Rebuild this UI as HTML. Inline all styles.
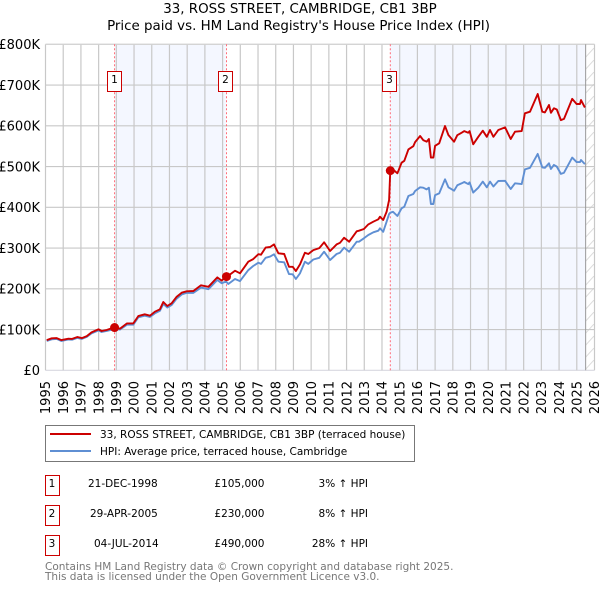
<!DOCTYPE html>
<html lang="en">
<head>
<meta charset="utf-8">
<title>33, Ross Street, Cambridge price chart</title>
<style>
html,body{margin:0;padding:0;background:#fff;}
#chart{display:block;position:absolute;left:0;top:0;width:600px;height:590px;overflow:hidden;font-family:"DejaVu Sans","Liberation Sans",sans-serif;}
</style>
</head>
<body>
<svg id="chart" xmlns="http://www.w3.org/2000/svg" width="600" height="590" viewBox="0 0 600 590">
<defs>
<pattern id="hatch" patternUnits="userSpaceOnUse" width="9" height="12">
<path d="M-1 11 L9 0" stroke="#dcdcdc" stroke-width="1" fill="none"/>
</pattern>
</defs>
<text x="300" y="13" text-anchor="middle" font-size="13.4" fill="#000">33, ROSS STREET, CAMBRIDGE, CB1 3BP</text>
<text x="298.5" y="30" text-anchor="middle" font-size="13.4" fill="#000">Price paid vs. HM Land Registry's House Price Index (HPI)</text>
<g id="plot"></g>

<g>
<rect x="45.5" y="425.5" width="369" height="36" fill="#fff" stroke="#777" stroke-width="1"/>
<line x1="50" x2="91" y1="434" y2="434" stroke="#cc0000" stroke-width="2"/>
<text x="100" y="438" font-size="10.5" fill="#000">33, ROSS STREET, CAMBRIDGE, CB1 3BP (terraced house)</text>
<line x1="50" x2="91" y1="451" y2="451" stroke="#5f8fd3" stroke-width="2"/>
<text x="100" y="455" font-size="10.5" fill="#000">HPI: Average price, terraced house, Cambridge</text>
</g>

<g font-size="10.5" fill="#000">
<rect x="45.5" y="475.5" width="14" height="20" fill="#fff" stroke="#cc0000"/>
<text x="52" y="487" text-anchor="middle">1</text>
<text x="88" y="487">21-DEC-1998</text>
<text x="264.5" y="487" text-anchor="end">£105,000</text>
<text x="368" y="487" text-anchor="end">3% ↑ HPI</text>
<rect x="45.5" y="505.5" width="14" height="20" fill="#fff" stroke="#cc0000"/>
<text x="52" y="517" text-anchor="middle">2</text>
<text x="90" y="517">29-APR-2005</text>
<text x="264.5" y="517" text-anchor="end">£230,000</text>
<text x="368" y="517" text-anchor="end">8% ↑ HPI</text>
<rect x="45.5" y="535.5" width="14" height="20" fill="#fff" stroke="#cc0000"/>
<text x="52" y="547" text-anchor="middle">3</text>
<text x="94" y="547">04-JUL-2014</text>
<text x="264.5" y="547" text-anchor="end">£490,000</text>
<text x="368" y="547" text-anchor="end">28% ↑ HPI</text>
</g>

<text x="45" y="570" font-size="10.5" fill="#777">Contains HM Land Registry data © Crown copyright and database right 2025.</text>
<text x="45" y="580" font-size="10.5" fill="#777">This data is licensed under the Open Government Licence v3.0.</text>
</svg>

<script>
var yearTicks = [1995,1996,1997,1998,1999,2000,2001,2002,2003,2004,2005,2006,2007,2008,2009,2010,2011,2012,2013,2014,2015,2016,2017,2018,2019,2020,2021,2022,2023,2024,2025,2026];
var valueTicks = [0,100,200,300,400,500,600,700,800];
var valueTickLabels = ['£0','£100K','£200K','£300K','£400K','£500K','£600K','£700K','£800K'];
var seriesYears = [1995.07,1995.35,1995.63,1995.9,1996.3,1996.5,1996.8,1997.05,1997.33,1997.6,1998,1998.17,1998.45,1998.9,1999.2,1999.6,1999.96,2000.24,2000.6,2000.9,2001.18,2001.46,2001.65,2001.88,2002.12,2002.41,2002.69,2002.97,2003.35,2003.78,2004.2,2004.7,2004.95,2005.2,2005.32,2005.7,2005.98,2006.45,2006.73,2007.02,2007.17,2007.43,2007.68,2007.9,2008.15,2008.48,2008.75,2008.96,2009.14,2009.37,2009.65,2009.84,2010.12,2010.46,2010.73,2011.07,2011.44,2011.63,2011.86,2012.15,2012.57,2012.7,2012.98,2013.23,2013.51,2013.79,2013.89,2014.07,2014.26,2014.4,2014.47,2014.62,2014.87,2015.11,2015.26,2015.49,2015.77,2015.87,2016.15,2016.33,2016.52,2016.65,2016.76,2016.9,2017,2017.23,2017.56,2017.75,2018.07,2018.25,2018.5,2018.65,2018.87,2018.95,2019.15,2019.44,2019.69,2019.92,2020.1,2020.29,2020.57,2020.95,2021.27,2021.51,2021.89,2022.07,2022.36,2022.79,2023.05,2023.2,2023.43,2023.54,2023.71,2023.87,2024.1,2024.28,2024.74,2024.99,2025.18,2025.24,2025.46];
var pricePaid = [74,78.5,79,74,77.5,77,81.7,79,84,93,100.5,96.5,99,105.5,102,115,115,133,137.4,134,143.8,149.7,167.6,157.8,164.4,180.6,190.4,193.9,194.6,208.6,205,228,220,230,232,244.4,238,266.5,273,285,283.7,301,302.6,309,287,285.4,254,254,243.7,260,288.6,285.4,295,300,314,292.8,309,313,325.4,315.6,341,342.6,346.7,358,364.7,370.6,377,368.8,389,418,490,493,483.4,509.5,514,542,550,560,575,565,561,567.6,522,522,551,557,599.5,577.4,561,577,583,587,583,587,554.6,573,588,573,589.7,573,589.7,596,567.6,585.5,587,630.6,634.6,678,634.6,633,651,632,643,640,614,617,666,653.5,653.5,663,645];
var hpiIndex = [72,76,77,72,75.5,75,79.5,77,82,90.5,98,94,96.5,101,100,112,112,130,134,131,140,146,163,154,160,176,186,190,190,203,199,221.6,213.5,218,211.7,224,219,246,256,264,261,276,279,284.6,266.5,265,236,235.6,224,238,266.5,261,272,276,291,270.7,285.4,288.6,301,291,315.6,315.6,324,332,338.6,342.6,348.5,340,364.7,383.6,386.7,389,378.6,397.5,401.5,427.7,432.6,440,449,448,444,448,408,408,430,434,468.7,449,440.7,454,459,462,457,461,436,448,463,449,463,451,464.5,465,445,459,457,493,497,531,498,497,508,494,504,500,482,485,522,511,511,516,506];
var saleYears = [1998.9,2005.22,2014.47];
var salePrices = [105,230,490];
var shadedSpans = [[1998.93,2005.18],[2014.47,2025.5]];

var plotLeft = 45.5, plotRight = 594.5, plotTop = 44.3, plotBottom = 370.3;
var svgNS = 'http://www.w3.org/2000/svg';
var plot = document.getElementById('plot');
function xScale(year){ return plotLeft + (year - 1995) * (plotRight - plotLeft) / 31; }
function yScale(value){ return plotBottom - value * (plotBottom - plotTop) / 800; }
function make(tag, attrs, parent){
  var el = document.createElementNS(svgNS, tag);
  for (var k in attrs) el.setAttribute(k, attrs[k]);
  (parent || plot).appendChild(el);
  return el;
}

shadedSpans.forEach(function(span){
  var r = make('rect', {x: xScale(span[0]), y: plotTop, width: xScale(span[1]) - xScale(span[0]), height: plotBottom - plotTop, fill: '#f4f7ff'});
  
  
});

var hatchRect = make('rect', {x: xScale(2025.5), y: plotTop, width: plotRight - xScale(2025.5), height: plotBottom - plotTop, fill: 'url(#hatch)'});



valueTicks.forEach(function(v, i){
  var y = yScale(v);
  var line = make('line', {x1: plotLeft, x2: plotRight, y1: y, y2: y, stroke: i === 0 ? '#d8d8e0' : '#c8c8c8', 'stroke-width': 1.2});
  
  
  var label = make('text', {x: 40, y: y + 4.7, 'text-anchor': 'end', 'font-size': 13, fill: '#000'});
  
  
  label.textContent = valueTickLabels[i];
});

yearTicks.forEach(function(yr){
  var x = xScale(yr);
  var line = make('line', {x1: x, x2: x, y1: plotTop, y2: plotBottom, stroke: '#c8c8c8', 'stroke-width': 1.2});
  
  
  var label = make('text', {x: 0, y: 0, 'text-anchor': 'end', 'font-size': 13, fill: '#000', transform: 'translate(' + (x + 4.7) + ',381) rotate(-90)'});
  
  
  label.textContent = String(yr);
});

var topBorder = make('line', {x1: plotLeft, x2: plotRight, y1: plotTop, y2: plotTop, stroke: '#d4d4d4', 'stroke-width': 1});



var endLine = make('line', {x1: xScale(2025.5), x2: xScale(2025.5), y1: plotTop, y2: plotBottom, stroke: '#999', 'stroke-width': 1});



saleYears.forEach(function(yr){
  var x = xScale(yr);
  var line = make('line', {x1: x, x2: x, y1: plotTop, y2: plotBottom, stroke: '#ff6b78', 'stroke-width': 1, 'stroke-dasharray': '2 2'});
  
  
});

function pointsFor(values){
  return values.map(function(v, i){ return xScale(seriesYears[i]).toFixed(1) + ',' + yScale(v).toFixed(1); }).join(' ');
}
var hpiLine = make('polyline', {points: pointsFor(hpiIndex), fill: 'none', stroke: '#5f8fd3', 'stroke-width': 1.9, 'stroke-linejoin': 'round'});


var priceLine = make('polyline', {points: pointsFor(pricePaid), fill: 'none', stroke: '#cc0000', 'stroke-width': 1.9, 'stroke-linejoin': 'round'});



saleYears.forEach(function(yr, i){
  var cx = xScale(yr), cy = yScale(salePrices[i]);
  var dot = make('circle', {cx: cx, cy: cy, r: 4.5, fill: '#cc0000'});
  
  
  var box = make('rect', {x: Math.round(cx) - 7.5, y: 71.5, width: 14, height: 20, fill: '#fff', stroke: '#cc0000', 'stroke-width': 1});
  
  
  var num = make('text', {x: Math.round(cx) - 0.5, y: 83, 'text-anchor': 'middle', 'font-size': 10.5, fill: '#000'});
  
  
  num.textContent = String(i + 1);
});
</script>
</body>
</html>
